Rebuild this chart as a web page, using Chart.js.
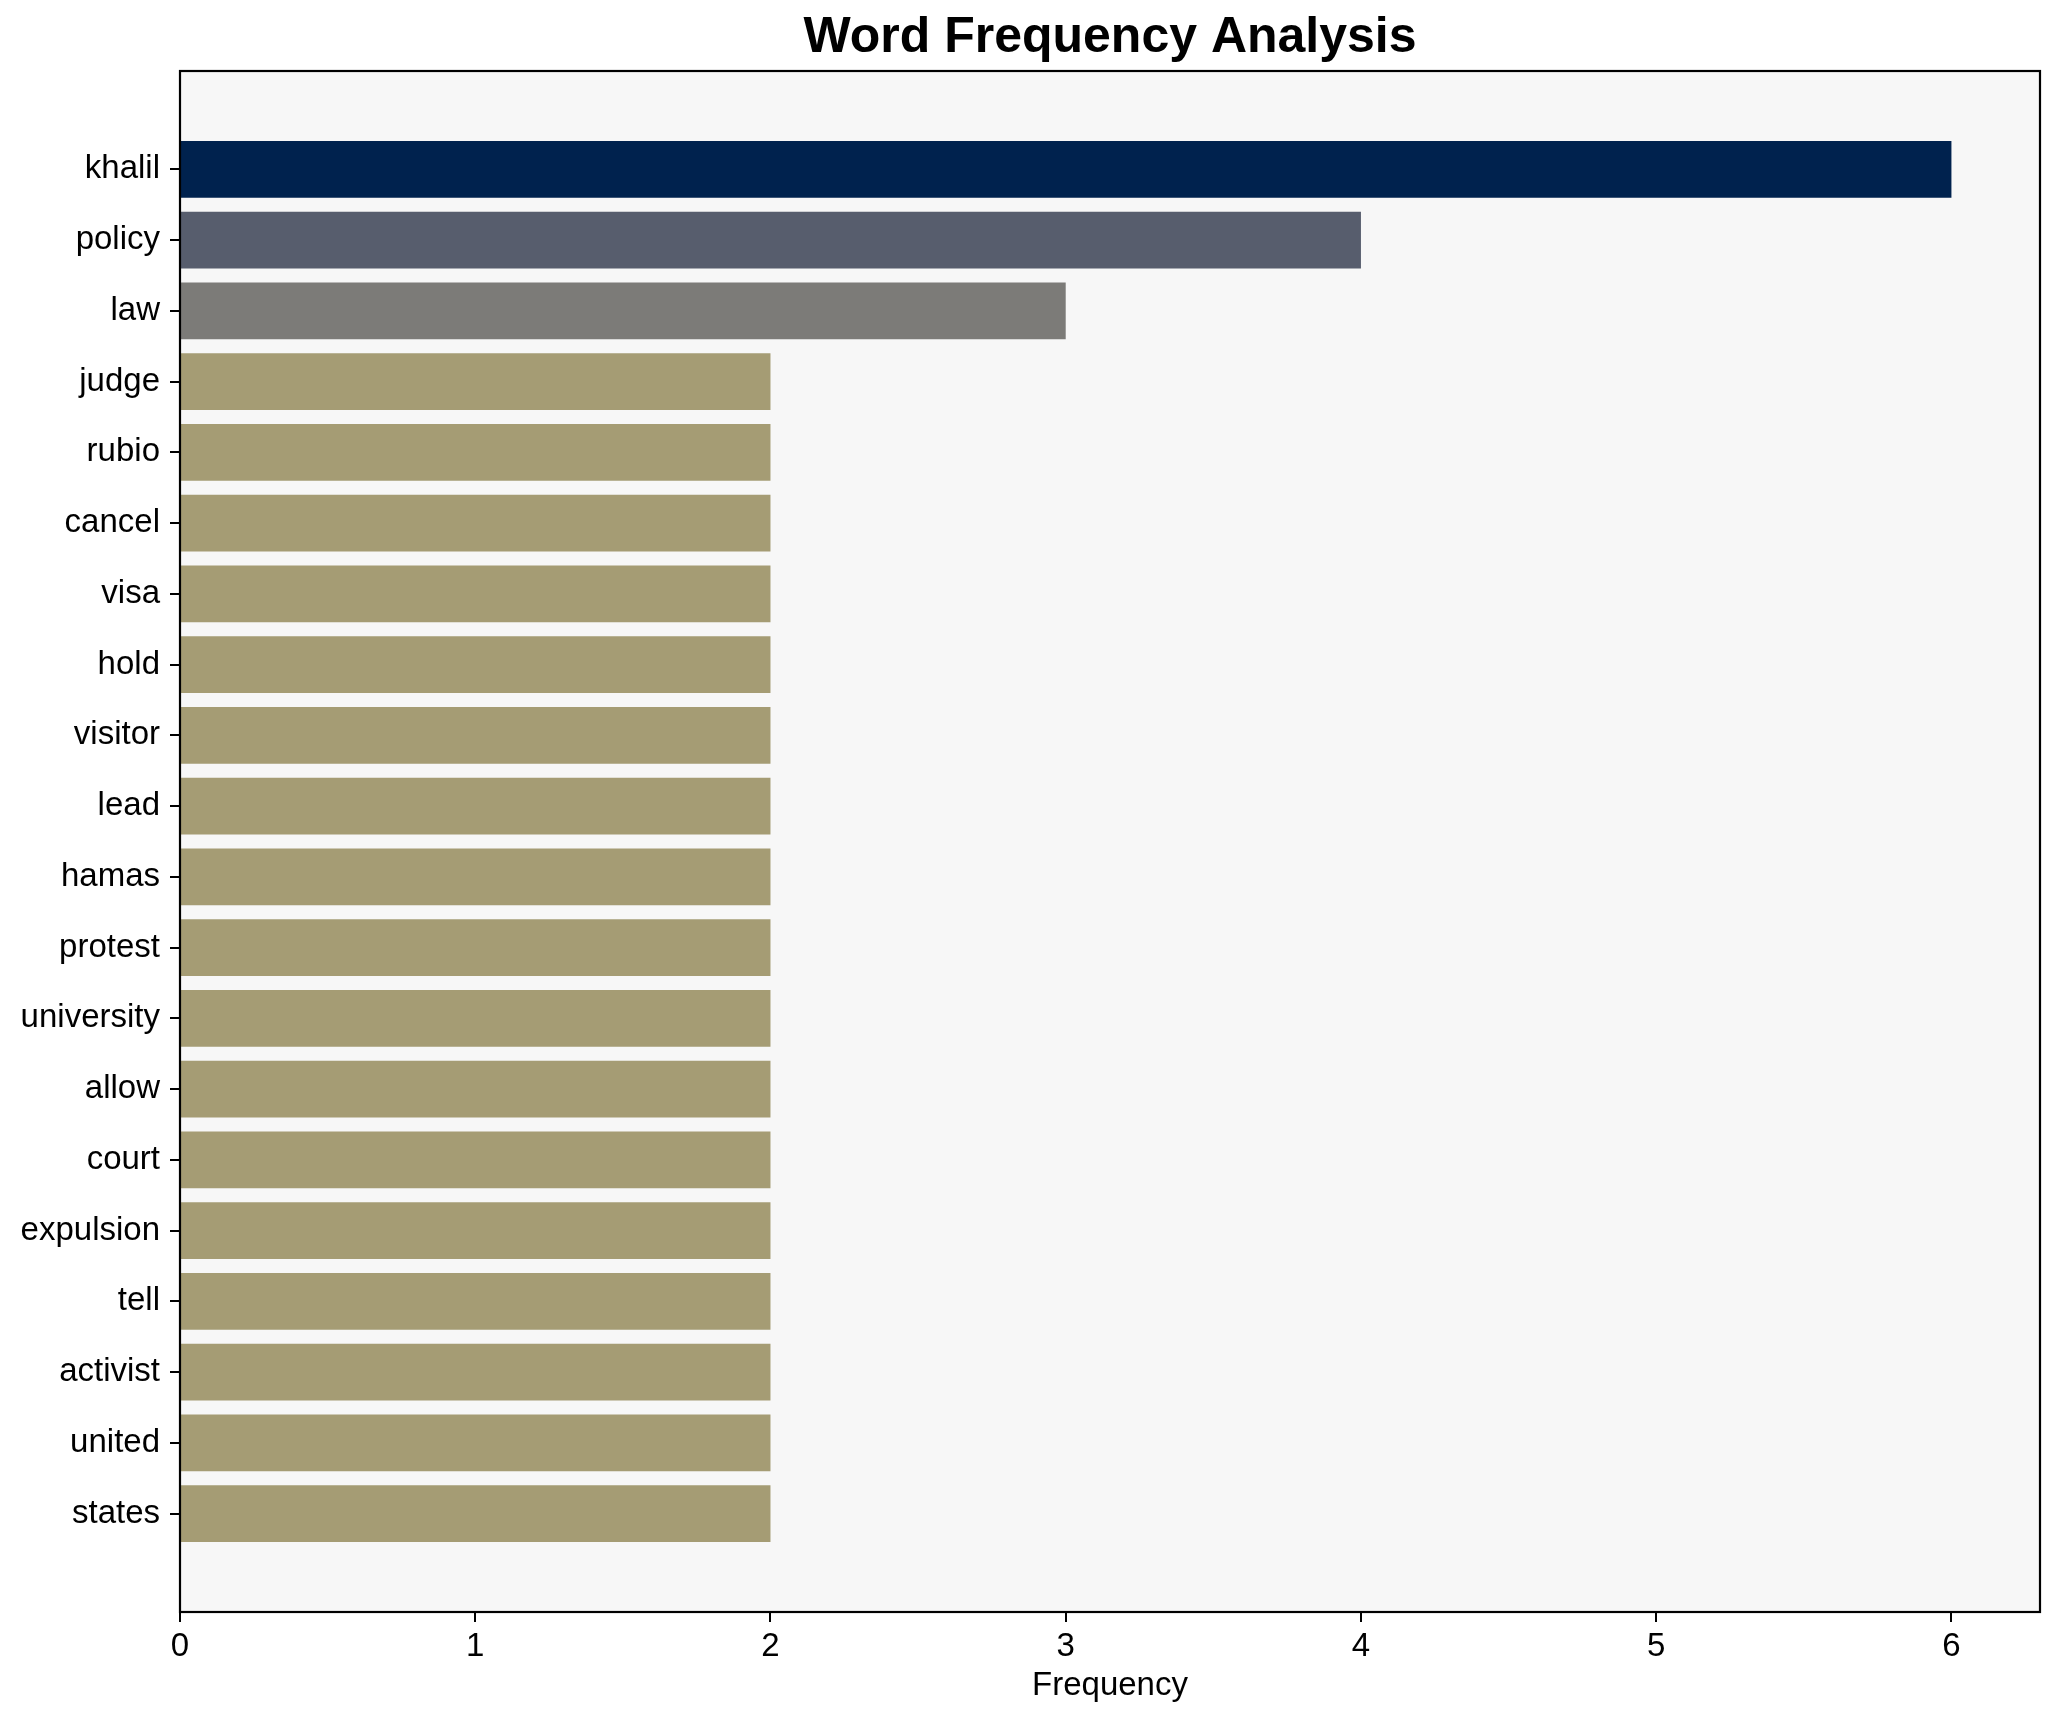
<!DOCTYPE html>
<html>
<head>
<meta charset="utf-8">
<script src="https://cdn.jsdelivr.net/npm/chart.js@4.4.1/dist/chart.umd.min.js"></script>
<style>
  html, body { margin: 0; padding: 0; background: #ffffff; }
  #wrap { width: 2060px; height: 1722px; }
</style>
</head>
<body>
<div id="wrap"><canvas id="chart1" width="2060" height="1722"></canvas></div>
<script>
var words = ['khalil', 'policy', 'law', 'judge', 'rubio', 'cancel', 'visa', 'hold', 'visitor', 'lead',
             'hamas', 'protest', 'university', 'allow', 'court', 'expulsion', 'tell', 'activist', 'united', 'states'];
var counts = [6, 4, 3, 2, 2, 2, 2, 2, 2, 2, 2, 2, 2, 2, 2, 2, 2, 2, 2, 2];
var xTicks = [0, 1, 2, 3, 4, 5, 6];

// colour by frequency (cividis-like)
var barColors = counts.map(function (c) {
    if (c >= 6) return '#00224e';
    if (c >= 4) return '#575d6d';
    if (c >= 3) return '#7c7b78';
    return '#a59c74';
});

var FONT = "'Liberation Sans', Arial, sans-serif";

// plot background and the box around it
var frame = {
    id: 'frame',
    beforeDraw: function (chart) {
        var a = chart.chartArea, c = chart.ctx;
        c.save();
        c.fillStyle = '#f7f7f7';
        c.fillRect(a.left, a.top, a.right - a.left, a.bottom - a.top);
        c.restore();
    },
    afterDraw: function (chart) {
        var a = chart.chartArea, c = chart.ctx;
        c.save();
        c.strokeStyle = '#000';
        c.lineWidth = 2.2;
        c.strokeRect(a.left, a.top, a.right - a.left, a.bottom - a.top);
        c.restore();
    }
};

var ctx = document.getElementById('chart1').getContext('2d');
var chart = new Chart(ctx, {
    type: 'bar',
    data: {
        datasets: [{
            data: words.map(function (w, i) { return { x: counts[i], y: i }; }),
            backgroundColor: barColors,
            borderWidth: 0,
            categoryPercentage: 1.0,
            barPercentage: 0.8
        }]
    },
    options: {
        indexAxis: 'y',
        responsive: false,
        animation: false,
        layout: { padding: { left: 0, right: 20, top: 0, bottom: 0 } },
        plugins: {
            legend: { display: false },
            tooltip: { enabled: false },
            title: {
                display: true,
                text: 'Word Frequency Analysis',
                fullSize: false,
                color: '#000',
                font: { family: FONT, size: 50, weight: 'bold' },
                padding: { top: 8, bottom: 3 }
            }
        },
        scales: {
            x: {
                type: 'linear',
                position: 'bottom',
                min: 0,
                max: 6.3,
                offset: false,
                afterBuildTicks: function (s) {
                    s.ticks = xTicks.map(function (v) { return { value: v }; });
                },
                afterFit: function (s) { s.height = 110; },
                ticks: {
                    color: '#000',
                    font: { family: FONT, size: 33 },
                    padding: 5,
                    maxRotation: 0
                },
                grid: {
                    display: true,
                    offset: false,
                    drawOnChartArea: false,
                    drawTicks: true,
                    tickLength: 10,
                    color: '#000',
                    lineWidth: 2
                },
                border: { display: false },
                title: {
                    display: true,
                    text: 'Frequency',
                    color: '#000',
                    font: { family: FONT, size: 33 },
                    padding: { top: 0, bottom: 16 }
                }
            },
            y: {
                type: 'linear',
                reverse: true,
                min: -1.39,
                max: 20.39,
                offset: false,
                afterBuildTicks: function (s) {
                    s.ticks = words.map(function (w, i) { return { value: i }; });
                },
                afterFit: function (s) { s.width = 180; },
                ticks: {
                    autoSkip: false,
                    color: '#000',
                    font: { family: FONT, size: 33 },
                    padding: 10,
                    callback: function (v) { return words[v]; }
                },
                grid: {
                    display: true,
                    offset: false,
                    drawOnChartArea: false,
                    drawTicks: true,
                    tickLength: 10,
                    color: '#000',
                    lineWidth: 2
                },
                border: { display: false }
            }
        }
    },
    plugins: [frame]
});
</script>
</body>
</html>
